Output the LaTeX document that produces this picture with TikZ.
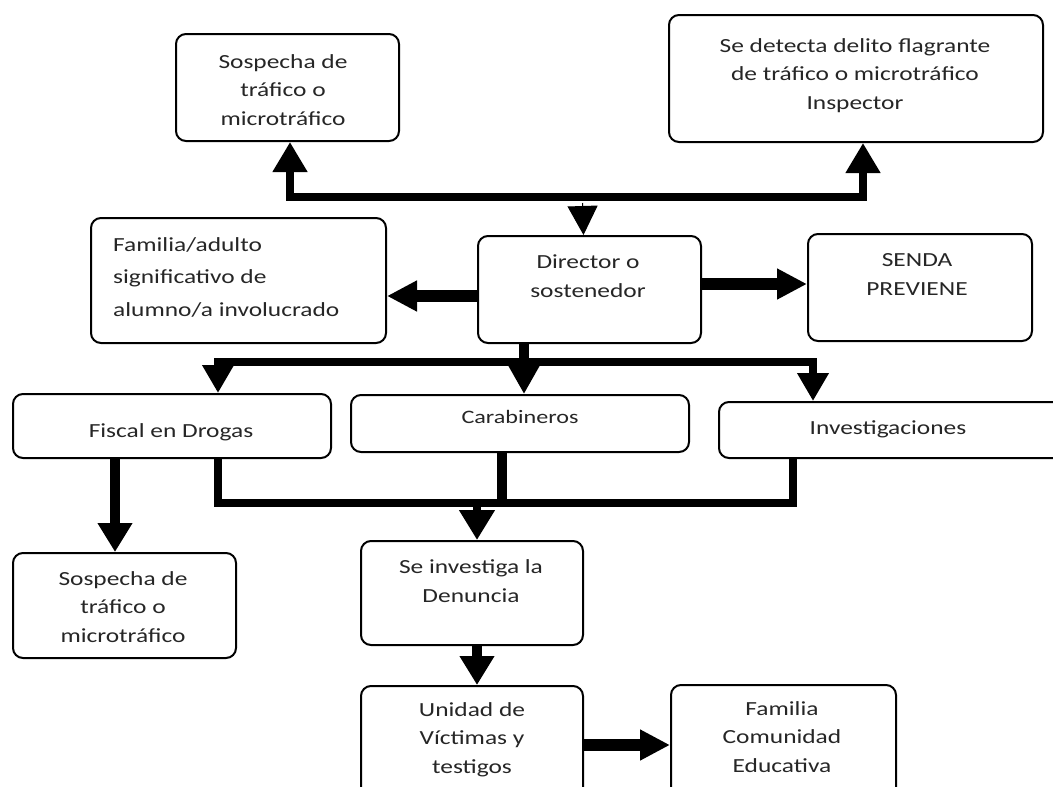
\documentclass[tikz,border=0pt]{standalone}
\usepackage{fontspec}
\setmainfont{Carlito}[FakeStretch=1.27]
\usetikzlibrary{arrows.meta,calc}
\begin{document}
\begin{tikzpicture}[x=1pt,y=-1pt,
 box/.style={draw, line width=2pt, rounded corners=10pt, fill=white, anchor=north west, inner sep=0pt},
 txt/.style={font=\fontsize{20}{28.5}\selectfont, align=center, anchor=base, inner sep=0pt, text=black!85},
 bar/.style={line width=8pt},
 vshaft/.style={line width=10pt},
 hshaft/.style={line width=12pt},
 tipv/.style={-{Triangle[width=33pt,length=29pt]}},
 tiph/.style={-{Triangle[width=29pt,length=30pt]}}]
\fill[white] (0,0) rectangle (1053,787);
\useasboundingbox (0,0) rectangle (1053,787);

% boxes
\node[box, minimum width=223pt, minimum height=107pt] (s1) at (175,33) {};
\node[box, minimum width=374pt, minimum height=127pt] (s2) at (668,14) {};
\node[box, minimum width=295pt, minimum height=125pt] (fam) at (90,217) {};
\node[box, minimum width=223pt, minimum height=107pt] (dir) at (477,235) {};
\node[box, minimum width=224pt, minimum height=107pt] (senda) at (807,233) {};
\node[box, minimum width=318pt, minimum height=64pt] (fisc) at (12,393) {};
\node[box, minimum width=338pt, minimum height=57pt] (carab) at (350,394) {};
\node[box, minimum width=350pt, minimum height=56pt] (inv) at (718,401) {};
\node[box, minimum width=223pt, minimum height=105pt] (sos2) at (12,552) {};
\node[box, minimum width=222pt, minimum height=104pt] (den) at (360,540) {};
\node[box, minimum width=222pt, minimum height=120pt] (uni) at (360,685) {};
\node[box, minimum width=225pt, minimum height=120pt] (famc) at (670,684) {};

% texts (anchor = baseline of the last line)
\node[txt] (t1) at (283,125) {Sospecha de\\tráfico o\\microtráfico};
\node[txt] (t2) at (855,109) {Se detecta delito flagrante\\de tráfico o microtráfico\\Inspector};
\node[txt, align=left, anchor=base west, font=\fontsize{20}{32.5}\selectfont] (t3) at (113,316) {Familia/adulto\\significativo de\\alumno/a involucrado};
\node[txt] (t4) at (588,297) {Director o\\sostenedor};
\node[txt] (t5) at (917,295) {SENDA\\PREVIENE};
\node[txt] (t6) at (171,437) {Fiscal en Drogas};
\node[txt, font=\fontsize{19}{28.5}\selectfont] (t7) at (520,423) {Carabineros};
\node[txt] (t8) at (888,434) {Investigaciones};
\node[txt] (t9) at (123,642) {Sospecha de\\tráfico o\\microtráfico};
\node[txt] (t10) at (471,602) {Se investiga la\\Denuncia};
\node[txt] (t11) at (472,773) {Unidad de\\Víctimas y\\testigos};
\node[txt] (t12) at (782,772) {Familia\\Comunidad\\Educativa};

% top connectors
\coordinate (jt) at (582.5,197);
\draw[bar, {Triangle[width=33pt,length=30pt]}-{Triangle[width=33pt,length=30pt]}]
  ([xshift=2.5pt]s1.south) |- (jt) -| ([xshift=7pt]s2.south);
\draw[line width=1pt, -{Triangle[width=30pt,length=29pt]}] ([yshift=-6pt]jt) -- ([xshift=-6pt]dir.north);

\coordinate (yl) at (0,296);
\draw[hshaft, tiph] (dir.west |- yl) -- (fam.east |- yl);
\coordinate (yr) at (0,284);
\draw[hshaft, tiph] (dir.east |- yr) -- (senda.west |- yr);

% distribution bar
\coordinate (b1) at (524,362);
\coordinate (xf) at (218,0);
\coordinate (xi) at (813,0);
\draw[vshaft] (b1 |- dir.south) -- (b1);
\draw[bar, {Triangle[width=30pt,length=28pt]}-{Triangle[width=30pt,length=28pt]}]
  (xf |- fisc.north) |- (b1) -| (xi |- inv.north);
\draw[bar, -{Triangle[width=30pt,length=29pt]}] (b1) -- (b1 |- carab.north);

% collecting bar
\coordinate (lb) at (0,503);
\coordinate (xc2) at (502,0);
\coordinate (xi2) at (793,0);
\coordinate (xd) at (477,0);
\draw[bar] (xf |- fisc.south) |- (xi2 |- lb) -- (xi2 |- inv.south);
\draw[vshaft] (xc2 |- carab.south) -- (xc2 |- lb);
\draw[bar, -{Triangle[width=34pt,length=30pt]}] (xd |- lb) -- (xd |- den.north);

% other arrows
\coordinate (xs) at (115,0);
\draw[vshaft, tipv] (xs |- fisc.south) -- (xs |- sos2.north);
\draw[vshaft, tipv] (xd |- den.south) -- (xd |- uni.north);
\coordinate (yu) at (0,745);
\draw[hshaft, tiph] (uni.east |- yu) -- (famc.west |- yu);
\end{tikzpicture}
\end{document}
